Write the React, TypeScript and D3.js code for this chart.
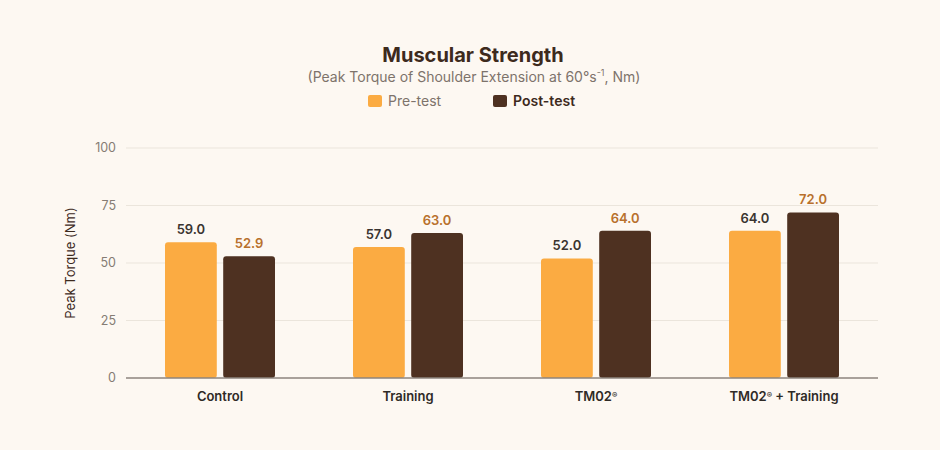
import React, { useEffect, useRef } from 'react';
import * as d3 from 'd3';

const categories = ['Control', 'Training', 'TM02®', 'TM02® + Training'];
const preTest = [59.0, 57.0, 52.0, 64.0];
const postTest = [52.9, 63.0, 64.0, 72.0];
const yTicks = [0, 25, 50, 75, 100];

const WIDTH = 940;
const HEIGHT = 450;
const FONT = 'Inter, "Open Sans", sans-serif';

const App: React.FC = () => {
  const svgRef = useRef<SVGSVGElement>(null);

  useEffect(() => {
    if (!svgRef.current) return;
    const svg = d3.select(svgRef.current);
    svg.selectAll('*').remove();

    const margin = { top: 148, right: 62, bottom: 72, left: 126 };
    const innerWidth = WIDTH - margin.left - margin.right;
    const innerHeight = HEIGHT - margin.top - margin.bottom;

    svg.append('rect')
      .attr('width', WIDTH)
      .attr('height', HEIGHT)
      .attr('fill', '#fdf8f2');

    // Title and subtitle
    svg.append('text')
      .attr('x', WIDTH / 2 + 3)
      .attr('y', 62)
      .attr('text-anchor', 'middle')
      .attr('font-family', FONT)
      .attr('font-size', 20)
      .attr('font-weight', 700)
      .attr('fill', '#3d2a1d')
      .text('Muscular Strength');

    const sub = svg.append('text')
      .attr('x', WIDTH / 2 + 4)
      .attr('y', 82)
      .attr('text-anchor', 'middle')
      .attr('font-family', FONT)
      .attr('font-size', 14)
      .attr('fill', '#7d736b');
    sub.append('tspan').text('(Peak Torque of Shoulder Extension at 60°s');
    sub.append('tspan').attr('dy', -6).attr('font-size', 9).text('-1');
    sub.append('tspan').attr('dy', 6).text(', Nm)');

    // Legend
    const legend = [
      { label: 'Pre-test', color: '#fbab42', text: '#7d736b', weight: 400, x: 368 },
      { label: 'Post-test', color: '#4e3121', text: '#3d2a1d', weight: 600, x: 493 },
    ];
    legend.forEach(l => {
      svg.append('rect')
        .attr('x', l.x)
        .attr('y', 95)
        .attr('width', 14)
        .attr('height', 12)
        .attr('rx', 2)
        .attr('fill', l.color);
      svg.append('text')
        .attr('x', l.x + 20)
        .attr('y', 106)
        .attr('font-family', FONT)
        .attr('font-size', 14)
        .attr('font-weight', l.weight)
        .attr('fill', l.text)
        .text(l.label);
    });

    const g = svg.append('g')
      .attr('transform', `translate(${margin.left},${margin.top})`);

    const x0 = d3.scaleBand()
      .domain(categories)
      .range([0, innerWidth]);

    const x1 = d3.scaleBand()
      .domain(['pre', 'post'])
      .range([x0.bandwidth() / 2 - 55, x0.bandwidth() / 2 + 55])
      .paddingInner(0.11);

    const y = d3.scaleLinear()
      .domain([0, 100])
      .range([innerHeight, 0]);

    // Grid lines
    g.selectAll('.grid-line')
      .data(yTicks.slice(1))
      .enter().append('line')
      .attr('x1', 0)
      .attr('x2', innerWidth)
      .attr('y1', d => y(d))
      .attr('y2', d => y(d))
      .attr('stroke', '#ebe5dc')
      .attr('stroke-width', 1);

    // Y tick labels
    g.selectAll('.y-tick')
      .data(yTicks)
      .enter().append('text')
      .attr('x', -10)
      .attr('y', d => y(d))
      .attr('dy', '0.35em')
      .attr('text-anchor', 'end')
      .attr('font-family', FONT)
      .attr('font-size', 12.5)
      .attr('fill', '#857c74')
      .text(d => d);

    // Y axis title
    svg.append('text')
      .attr('transform', `translate(75,${margin.top + innerHeight / 2}) rotate(-90)`)
      .attr('text-anchor', 'middle')
      .attr('font-family', FONT)
      .attr('font-size', 13)
      .attr('fill', '#3d2a1d')
      .text('Peak Torque (Nm)');

    const groups = g.selectAll('.group')
      .data(categories.map((c, i) => ({ c, pre: preTest[i], post: postTest[i] })))
      .enter().append('g')
      .attr('transform', d => `translate(${x0(d.c)},0)`);

    const series = [
      { key: 'pre', color: '#fbab42', labelColor: '#3a3430' },
      { key: 'post', color: '#4e3121', labelColor: '#b8702c' },
    ];

    series.forEach(s => {
      groups.append('rect')
        .attr('x', () => x1(s.key) || 0)
        .attr('y', (d: any) => y(d[s.key]))
        .attr('width', x1.bandwidth())
        .attr('height', (d: any) => innerHeight - y(d[s.key]))
        .attr('rx', 3)
        .attr('fill', s.color);

      groups.append('text')
        .attr('x', () => (x1(s.key) || 0) + x1.bandwidth() / 2)
        .attr('y', (d: any) => y(d[s.key]) - 8)
        .attr('text-anchor', 'middle')
        .attr('font-family', FONT)
        .attr('font-size', 13)
        .attr('font-weight', 600)
        .attr('fill', s.labelColor)
        .text((d: any) => d[s.key].toFixed(1));
    });

    // Baseline
    g.append('line')
      .attr('x1', 0)
      .attr('x2', innerWidth)
      .attr('y1', innerHeight)
      .attr('y2', innerHeight)
      .attr('stroke', '#8c857e')
      .attr('stroke-width', 1.5);

    // Category labels, with the ® raised and small
    const labels = g.selectAll('.x-label')
      .data(categories)
      .enter().append('text')
      .attr('x', d => (x0(d) || 0) + x0.bandwidth() / 2)
      .attr('y', innerHeight + 23)
      .attr('text-anchor', 'middle')
      .attr('font-family', FONT)
      .attr('font-size', 13)
      .attr('font-weight', 600)
      .attr('fill', '#2f2a26');

    labels.each(function (d) {
      const t = d3.select(this);
      const parts = d.split('®');
      parts.forEach((p, i) => {
        if (p) t.append('tspan').text(p);
        if (i < parts.length - 1) {
          t.append('tspan')
            .attr('font-size', 8)
            .attr('baseline-shift', '40%')
            .text('®');
        }
      });
    });
  }, []);

  return (
    <svg
      ref={svgRef}
      width={WIDTH}
      height={HEIGHT}
      style={{ display: 'block', position: 'absolute', left: 0, top: 0 }}
    />
  );
};

export default App;
